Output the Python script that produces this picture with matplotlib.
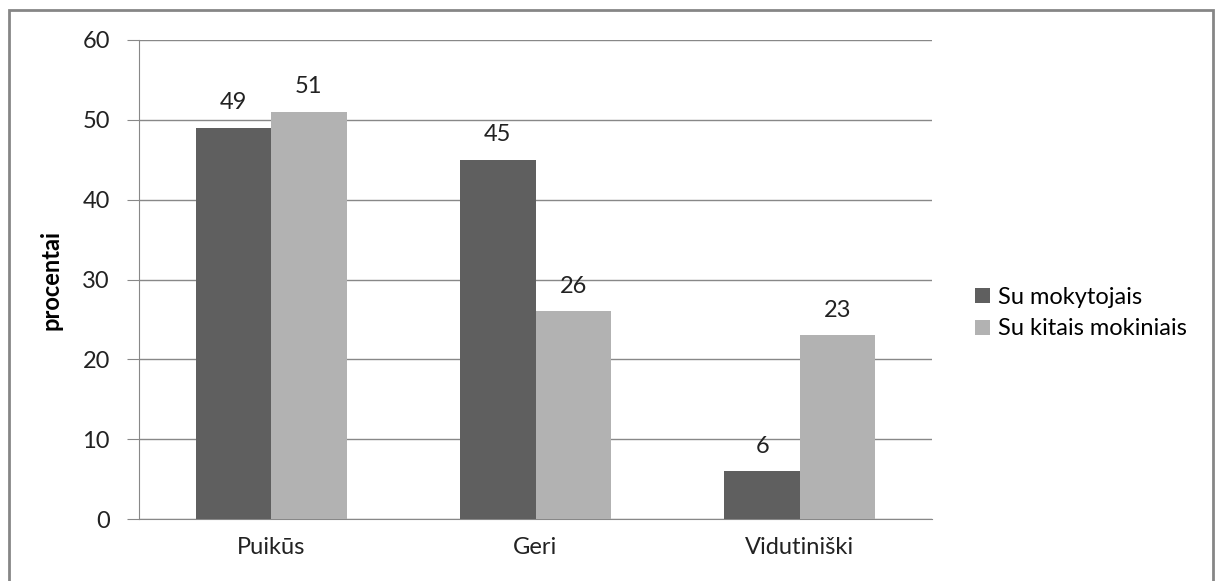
import numpy as np
import matplotlib.pyplot as plt
from matplotlib.patches import Rectangle

categories = ['Puikūs', 'Geri', 'Vidutiniški']
su_mokytojais = [49, 45, 6]
su_kitais = [51, 26, 23]
series_names = ['Su mokytojais', 'Su kitais mokiniais']
yticks = [0, 10, 20, 30, 40, 50, 60]

plt.rcParams['font.family'] = ['Lato', 'DejaVu Sans']
fs = 17

fig = plt.figure(figsize=(12.15, 5.81), dpi=100)
ax = fig.add_axes([139/1215, 1-519/581, (932-139)/1215, (519-40)/581])

# outer chart frame
fig.patches.append(Rectangle((9/1215, -0.01), (1213-9)/1215, 1-10/581+0.01,
                             transform=fig.transFigure, fill=False,
                             edgecolor='#868686', linewidth=2))

x = np.arange(len(categories))
w = 0.285
b1 = ax.bar(x - w/2, su_mokytojais, w, color='#5f5f5f', label=series_names[0], zorder=3)
b2 = ax.bar(x + w/2, su_kitais, w, color='#b2b2b2', label=series_names[1], zorder=3)

for bars, vals in ((b1, su_mokytojais), (b2, su_kitais)):
    for r, v in zip(bars, vals):
        ax.text(r.get_x() + r.get_width()/2, v + 1.8, str(v), ha='center', va='bottom',
                fontsize=fs, color='#222222')

ax.set_xlim(-0.5, 2.5)
ax.set_ylim(0, 60)
ax.set_yticks(yticks)
ax.set_xticks(x)
ax.set_xticklabels(categories)
ax.tick_params(axis='y', length=9, color='#888888', labelsize=fs, labelcolor='#222222', pad=12)
ax.tick_params(axis='x', length=0, labelsize=fs, labelcolor='#222222', pad=13)
ax.grid(axis='y', color='#888888', linewidth=1, zorder=0)
for s in ['top', 'right']:
    ax.spines[s].set_visible(False)
ax.spines['left'].set_color('#888888')
ax.spines['bottom'].set_color('#888888')
ax.set_ylabel('procentai', fontsize=fs, fontweight='bold', labelpad=14)

ax.legend(loc='center left', bbox_to_anchor=(1.028, 0.43), frameon=False, fontsize=fs,
          handlelength=0.6, handleheight=0.6, handletextpad=0.35, labelspacing=0.45)

fig.savefig('out.png', dpi=100)
